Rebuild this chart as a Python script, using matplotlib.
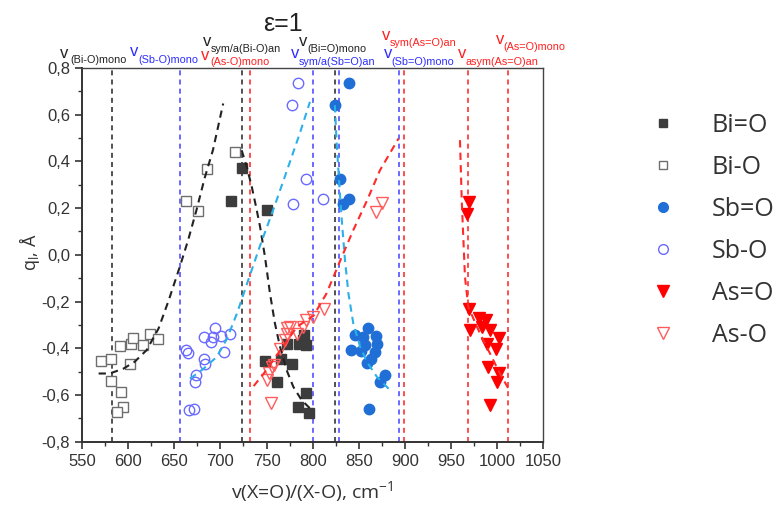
import matplotlib
matplotlib.use("Agg")
import matplotlib.pyplot as plt
from matplotlib.lines import Line2D
from matplotlib.ticker import MultipleLocator, FuncFormatter

# ---------------- data ----------------
bi_d_x = [711, 723, 751, 748, 761, 766, 778, 772, 785, 791, 793, 789, 793, 784, 796]
bi_d_y = [0.23, 0.37, 0.19, -0.455, -0.545, -0.447, -0.468, -0.38, -0.38, -0.345, -0.385, -0.365, -0.59, -0.65, -0.675]

bi_s_x = [571, 581, 581, 592, 594, 588, 591, 603, 605, 616, 602, 624, 632, 663, 676, 685, 716]
bi_s_y = [-0.455, -0.444, -0.54, -0.589, -0.651, -0.672, -0.39, -0.382, -0.358, -0.387, -0.468, -0.34, -0.362, 0.231, 0.188, 0.366, 0.441]

sb_d_x = [839, 824, 830, 833, 839, 846, 860, 855, 869, 842, 852, 868, 859, 863, 878, 873, 861, 870, 857]
sb_d_y = [0.737, 0.641, 0.323, 0.217, 0.237, -0.344, -0.315, -0.351, -0.348, -0.408, -0.411, -0.415, -0.465, -0.448, -0.515, -0.544, -0.662, -0.38, -0.387]

sb_s_x = [663, 665, 674, 672, 682, 683, 682, 690, 694, 701, 692, 704, 710, 666, 671, 784, 778, 793, 779, 811]
sb_s_y = [-0.408, -0.42, -0.515, -0.544, -0.444, -0.468, -0.351, -0.372, -0.315, -0.348, -0.351, -0.415, -0.34, -0.665, -0.658, 0.734, 0.641, 0.323, 0.217, 0.237]

as_d_x = [969, 967, 969, 970, 980, 983, 988, 992, 989, 1002, 999, 990, 1002, 1000, 992]
as_d_y = [0.227, 0.177, -0.23, -0.32, -0.272, -0.308, -0.28, -0.322, -0.38, -0.358, -0.405, -0.48, -0.508, -0.544, -0.644]

as_s_x = [812, 800, 793, 790, 775, 772, 783, 770, 765, 758, 753, 750, 755, 869, 875, 772, 756]
as_s_y = [-0.23, -0.265, -0.28, -0.308, -0.308, -0.337, -0.337, -0.365, -0.401, -0.472, -0.508, -0.537, -0.636, 0.184, 0.22, -0.315, -0.48]

# fitted trend curves
fit_bi_s_x = [568, 580, 595, 607, 620, 633, 644, 656, 665, 674, 683, 692, 703]
fit_bi_s_y = [-0.508, -0.508, -0.487, -0.458, -0.408, -0.315, -0.194, -0.051, 0.063, 0.191, 0.33, 0.45, 0.648]
fit_bi_d_x = [723, 728.5, 734, 738.6, 743, 748.3, 753.7, 759.1, 764.6, 771.8, 779, 788, 799]
fit_bi_d_y = [0.448, 0.377, 0.291, 0.206, 0.12, -0.009, -0.165, -0.294, -0.394, -0.494, -0.565, -0.622, -0.665]
fit_sb_s_x = [667, 681, 696, 707, 718, 730, 743, 757, 772, 786, 797]
fit_sb_s_y = [-0.53, -0.49, -0.437, -0.36, -0.25, -0.11, 0.04, 0.19, 0.36, 0.52, 0.655]
fit_sb_d_x = [824, 826, 829, 831.5, 835, 838.7, 844, 851.4, 858.7, 869.5, 884]
fit_sb_d_y = [0.641, 0.477, 0.291, 0.149, -0.023, -0.165, -0.294, -0.394, -0.458, -0.522, -0.58]
fit_as_s_x = [736, 747, 765, 783, 801, 815, 830, 844, 859, 873, 893]
fit_as_s_y = [-0.562, -0.508, -0.408, -0.308, -0.26, -0.165, -0.023, 0.106, 0.234, 0.363, 0.498]
fit_as_d_x = [959.6, 961.5, 965, 968.6, 981.3, 992.1, 1002.9, 1012]
fit_as_d_y = [0.491, 0.234, -0.094, -0.223, -0.337, -0.422, -0.508, -0.572]

# reference vibration frequencies (vertical lines)
vlines_black = [583, 723, 824]
vlines_blue = [656, 800, 829, 893]
vlines_red = [732, 899, 968, 1012]

x_ticks = [550, 600, 650, 700, 750, 800, 850, 900, 950, 1000, 1050]
y_ticks = [-0.8, -0.6, -0.4, -0.2, 0.0, 0.2, 0.4, 0.6, 0.8]

legend_labels = ["Bi=O", "Bi-O", "Sb=O", "Sb-O", "As=O", "As-O"]

# top annotations: (subscript text, colour)
top_labels = [
    ("(Bi-O)mono", "k"),
    ("(Sb-O)mono", "b"),
    ("(As-O)mono", "r"),
    ("sym/a(Bi-O)an", "k"),
    ("(Bi=O)mono", "k"),
    ("sym/a(Sb=O)an", "b"),
    ("(Sb=O)mono", "b"),
    ("sym(As=O)an", "r"),
    ("asym(As=O)an", "r"),
    ("(As=O)mono", "r"),
]
# positions in figure pixels: (v_left, v_y, sub_left, sub_y)
top_pos = [
    (60, 53, 70, 60),
    (130, 52, 138, 60),
    (201, 55, 210, 62),
    (203, 41, 211, 49),
    (299, 42, 307, 49),
    (291, 53, 299, 62),
    (384, 53, 391, 62),
    (382, 35, 390, 43),
    (458, 53, 466, 62),
    (496, 40, 503, 47),
]

# ---------------- style ----------------
C_BLACK = "#3c3c3c"
C_GREY = "#6e6e6e"
C_SB = "#1f6fd6"
C_SBO = "#6a6aff"
C_AS = "#ff0000"
C_ASO = "#ff5c5c"
C_CYAN = "#2bb0e8"
C_VBLACK = "#333333"
C_VBLUE = "#5050ff"
C_VRED = "#ff3030"
txtcol = {"k": "#222222", "b": "#2d2dff", "r": "#ff2020"}

W, H = 784, 507
fig = plt.figure(figsize=(W / 100, H / 100), dpi=100)
ax = fig.add_axes([82 / W, 1 - 441.7 / H, (543.4 - 82) / W, (441.7 - 68) / H])

for xv in vlines_black:
    ax.axvline(xv, color=C_VBLACK, lw=1.2, ls=(0, (3, 2.5)), zorder=1)
for xv in vlines_blue:
    ax.axvline(xv, color=C_VBLUE, lw=1.2, ls=(0, (3, 2.5)), zorder=1)
for xv in vlines_red:
    ax.axvline(xv, color=C_VRED, lw=1.2, ls=(0, (3, 2.5)), zorder=1)

ms = 7
ax.plot(bi_s_x, bi_s_y, ls="none", marker="s", ms=ms, mfc="white", mec=C_GREY, mew=1.0, zorder=3)
ax.plot(bi_d_x, bi_d_y, ls="none", marker="s", ms=ms, mfc=C_BLACK, mec=C_BLACK, zorder=3)
ax.plot(sb_s_x, sb_s_y, ls="none", marker="o", ms=ms + 0.5, mfc="none", mec=C_SBO, mew=1.0, zorder=3)
ax.plot(sb_d_x, sb_d_y, ls="none", marker="o", ms=ms + 0.5, mfc=C_SB, mec=C_SB, zorder=3)
ax.plot(as_s_x, as_s_y, ls="none", marker="v", ms=ms + 1.5, mfc="none", mec=C_ASO, mew=1.0, zorder=3)
ax.plot(as_d_x, as_d_y, ls="none", marker="v", ms=ms + 1.5, mfc=C_AS, mec=C_AS, zorder=3)

fls = (0, (3.5, 2.5))
ax.plot(fit_bi_s_x, fit_bi_s_y, color="#222222", lw=1.5, ls=fls, zorder=4)
ax.plot(fit_bi_d_x, fit_bi_d_y, color="#222222", lw=1.5, ls=fls, zorder=4)
ax.plot(fit_sb_s_x, fit_sb_s_y, color=C_CYAN, lw=1.5, ls=fls, zorder=4)
ax.plot(fit_sb_d_x, fit_sb_d_y, color=C_CYAN, lw=1.5, ls=fls, zorder=4)
ax.plot(fit_as_s_x, fit_as_s_y, color="#ff2a2a", lw=1.5, ls=fls, zorder=4)
ax.plot(fit_as_d_x, fit_as_d_y, color="#ff2a2a", lw=1.5, ls=fls, zorder=4)

ax.set_xlim(550, 1050)
ax.set_ylim(-0.8, 0.8)
ax.set_xticks(x_ticks)
ax.set_yticks(y_ticks)
ax.xaxis.set_minor_locator(MultipleLocator(25))
ax.yaxis.set_minor_locator(MultipleLocator(0.1))
ax.yaxis.set_major_formatter(FuncFormatter(lambda v, p: f"{v:.1f}".replace(".", ",").replace("-0,0", "0,0")))
ax.tick_params(which="major", direction="out", length=5, width=1.2, color="#333333",
               labelsize=12, labelcolor="#333333", top=False, right=False)
ax.tick_params(which="minor", direction="out", length=3, width=1.0, color="#333333", top=False, right=False)
for lab in ax.get_xticklabels() + ax.get_yticklabels():
    lab.set_fontfamily("Liberation Sans")
for s in ["left", "bottom"]:
    ax.spines[s].set_linewidth(1.4)
    ax.spines[s].set_color("#333333")
for s in ["top", "right"]:
    ax.spines[s].set_linewidth(1.0)
    ax.spines[s].set_color("#444444")

fig.text(312 / W, 1 - 492 / H, r"v(X=O)/(X-O), cm$^{\mathregular{-1}}$", ha="center", va="center",
         fontsize=14, family="Open Sans", color="#333333")
fig.text(30 / W, 1 - 252 / H, r"q$_{\mathregular{l}}$, Å", ha="center", va="center", rotation=90,
         fontsize=13, family="Open Sans", color="#333333")

for (sub, c), (vx, vy, sx, sy) in zip(top_labels, top_pos):
    fig.text(vx / W, 1 - vy / H, "v", ha="left", va="center", fontsize=12,
             family="Liberation Sans", color=txtcol[c])
    fig.text(sx / W, 1 - sy / H, sub, ha="left", va="center", fontsize=7.8,
             family="Liberation Sans", color=txtcol[c])

fig.text(283 / W, 1 - 24 / H, "ε=1", ha="center", va="center", fontsize=18,
         family="Liberation Sans", color="#222222")

handles = [
    Line2D([], [], ls="none", marker="s", ms=6, mfc=C_BLACK, mec=C_BLACK),
    Line2D([], [], ls="none", marker="s", ms=6, mfc="white", mec=C_GREY, mew=1.0),
    Line2D([], [], ls="none", marker="o", ms=7, mfc=C_SB, mec=C_SB),
    Line2D([], [], ls="none", marker="o", ms=7, mfc="none", mec=C_SBO, mew=1.0),
    Line2D([], [], ls="none", marker="v", ms=9, mfc=C_AS, mec=C_AS),
    Line2D([], [], ls="none", marker="v", ms=9, mfc="none", mec=C_ASO, mew=1.0),
]
leg = fig.legend(handles, legend_labels, loc="upper left", bbox_to_anchor=(648 / W, 1 - 113 / H),
                 frameon=False, prop={"family": "Open Sans", "size": 18}, labelspacing=0.68,
                 handlelength=1.2, handletextpad=1.36, borderpad=0, borderaxespad=0)
for t in leg.get_texts():
    t.set_color("#333333")

fig.savefig("out.png", dpi=100)
